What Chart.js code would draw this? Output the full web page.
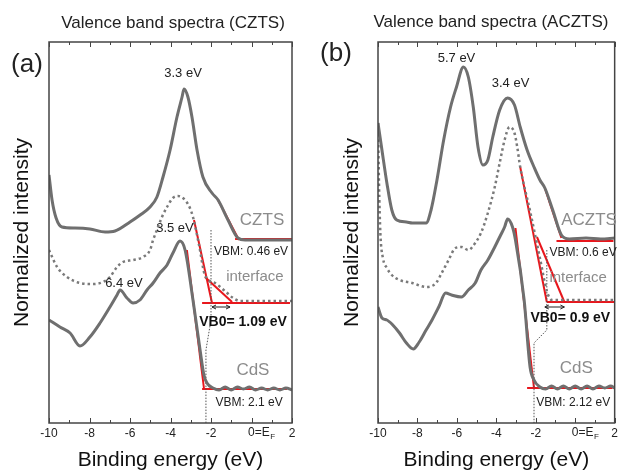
<!DOCTYPE html>
<html>
<head>
<meta charset="utf-8">
<script src="https://cdn.jsdelivr.net/npm/chart.js@4.4.1/dist/chart.umd.min.js"></script>
<style>
  html, body { margin: 0; padding: 0; background: #fff; }
  #wrapA { position: absolute; left: 0; top: 0; }
  #wrapB { position: absolute; left: 310px; top: 0; }
</style>
</head>
<body>
<div id="wrapA"><canvas id="chartA" width="310" height="473"></canvas></div>
<div id="wrapB"><canvas id="chartB" width="311" height="473"></canvas></div>
<script>
// x axis: binding energy (eV), y axis: normalized intensity (arb. units)
const xTicks = [-10, -8, -6, -4, -2, 0, 2];

// ---- panel (a) CZTS ----
const czX = [-10, -9.85, -9.65, -9.36, -8.72, -7.98, -7.23, -6.74, -6.0, -5.5, -5.01, -4.67, -4.37, -4.02, -3.68, -3.43, -3.33, -3.14, -2.94, -2.69, -2.40, -1.95, -1.65, -1.16, -0.67, -0.32, 0.42, 2.0];
const czY = [248, 223, 205, 196, 195, 194, 191, 192, 201, 208, 216, 226, 246, 273, 306, 326, 334, 326, 306, 273, 246, 230, 223, 203, 185, 183, 183, 183];

const czIfX = [-10, -9.60, -9.11, -8.47, -7.83, -7.33, -6.99, -6.64, -6.35, -5.85, -5.36, -5.01, -4.86, -4.67, -4.42, -4.17, -3.88, -3.63, -3.28, -3.04, -2.89, -2.59, -2.30, -1.80, -1.31, -0.91, -0.57, 2.0];
const czIfY = [173, 156, 146, 140, 139, 141, 146, 156, 161, 163, 166, 173, 183, 193, 206, 216, 225, 227, 223, 215, 206, 178, 148, 140, 132, 125, 122, 122];

const czCdsX = [-10, -9.46, -8.96, -8.47, -7.98, -7.48, -6.99, -6.64, -6.49, -6.15, -5.85, -5.51, -5.16, -4.86, -4.52, -4.17, -3.88, -3.53, -3.28, -2.89, -2.54, -2.35, -2.20, -1.90, -1.6, -1.3, -1.0, -0.7, -0.4, -0.1, 0.2, 0.5, 0.8, 1.1, 1.4, 1.7, 2.0];
const czCdsY = [103, 96, 90, 77, 86, 100, 116, 128, 133, 125, 120, 123, 133, 140, 150, 158, 170, 182, 173, 123, 73, 48, 40, 35, 33, 36, 33, 36, 34, 36, 33, 35, 33, 35, 33, 35, 33];

// linear fits [x1, y1, x2, y2]
const czFits = [
  [-1.65, 223, -0.62, 183],
  [-0.81, 184, 2.0, 184],
  [-2.84, 203, -1.95, 120],
  [-2.30, 146, -0.96, 121],
  [-2.44, 120, 1.90, 120],
  [-3.19, 173, -2.35, 35],
  [-2.44, 34, 1.75, 34]
];
const czLeadX = [-2.0, -2.0, -2.25, -2.25];
const czLeadY = [193, 103, 73, 0];
const czArrow = [-1.95, -1.06, 116];
const czLabels = [
  ['3.3 eV', -3.38, 350, 'peak'],
  ['3.5 eV', -3.78, 195, 'peak'],
  ['6.4 eV', -6.30, 140, 'peak'],
  ['CZTS', 0.52, 203, 'name'],
  ['VBM: 0.46 eV', -0.02, 171, 'vbm'],
  ['interface', 0.17, 146, 'iface'],
  ['VB0= 1.09 eV', -0.42, 101, 'vb0'],
  ['CdS', 0.07, 53, 'name'],
  ['VBM: 2.1 eV', -0.12, 20, 'vbm']
];

// ---- panel (b) ACZTS ----
const acX = [-10, -9.80, -9.55, -9.30, -9.05, -8.56, -8.26, -7.56, -7.31, -7.01, -6.67, -6.32, -6.02, -5.67, -5.42, -5.17, -4.93, -4.68, -4.43, -4.18, -3.83, -3.43, -3.08, -2.79, -2.44, -2.09, -1.79, -1.54, -1.14, -0.70, -0.30, 0.55, 1.29, 2.0];
const acY = [300, 273, 240, 213, 203, 201, 200, 200, 213, 243, 283, 316, 336, 356, 346, 316, 276, 258, 263, 286, 313, 325, 318, 296, 273, 256, 243, 235, 213, 188, 184, 185, 184, 185];

const acIfX = [-10, -9.95, -9.88, -9.75, -9.55, -9.30, -8.91, -8.26, -7.56, -7.06, -6.77, -6.42, -6.07, -5.77, -5.42, -5.07, -4.78, -4.43, -4.08, -3.83, -3.58, -3.33, -3.08, -2.94, -2.79, -2.29, -1.79, -1.44, -1.19, 2.0];
const acIfY = [300, 240, 190, 165, 155, 148, 143, 140, 136, 140, 150, 163, 175, 176, 173, 180, 190, 210, 236, 260, 283, 296, 290, 276, 256, 212, 165, 132, 123, 123];

const acCdsX = [-10, -9.80, -9.55, -9.25, -8.91, -8.56, -8.21, -7.91, -7.56, -7.26, -6.92, -6.57, -6.27, -5.77, -5.42, -5.07, -4.78, -4.43, -4.08, -3.78, -3.58, -3.43, -3.18, -3.03, -2.59, -2.29, -2.09, -1.79, -1.5, -1.2, -0.9, -0.6, -0.3, 0, 0.3, 0.6, 0.9, 1.2, 1.5, 1.8, 2.0];
const acCdsY = [116, 105, 103, 98, 90, 80, 74, 81, 93, 103, 116, 130, 128, 126, 133, 140, 153, 163, 176, 188, 196, 204, 196, 183, 123, 56, 43, 36, 34, 37, 34, 37, 34, 37, 34, 37, 34, 37, 35, 37, 35];

const acFits = [
  [-1.54, 235, -0.70, 185],
  [-0.95, 182, 1.94, 182],
  [-2.79, 256, -1.44, 121],
  [-1.94, 186, -0.55, 121],
  [-1.44, 121, 2.0, 121],
  [-3.03, 195, -2.09, 35],
  [-2.44, 35, 1.89, 35]
];
const acLeadX = [-1.44, -1.44, -2.09, -2.09];
const acLeadY = [173, 93, 80, 0];
const acArrow = [-1.54, -0.55, 116];
const acLabels = [
  ['5.7 eV', -6.02, 365, 'peak'],
  ['3.4 eV', -3.28, 340, 'peak'],
  ['ACZTS', 0.70, 203, 'name'],
  ['VBM: 0.6 eV', 0.40, 170, 'vbm'],
  ['interface', 0.15, 145, 'iface'],
  ['VB0= 0.9 eV', -0.25, 105, 'vb0'],
  ['CdS', 0.05, 55, 'name'],
  ['VBM: 2.12 eV', -0.10, 20, 'vbm']
];

const FONT = '"Liberation Sans", Arial, sans-serif';
const labelStyle = {
  peak: { font: '13px ' + FONT, color: '#222' },
  name: { font: '17px ' + FONT, color: '#8c8c8c' },
  iface: { font: '15px ' + FONT, color: '#8c8c8c' },
  vbm: { font: '12px ' + FONT, color: '#222' },
  vb0: { font: 'bold 14px ' + FONT, color: '#111' }
};

function pts(xs, ys) {
  return xs.map((x, i) => ({ x: x, y: ys[i] }));
}

function buildDatasets(curves, fits, leadX, leadY) {
  const sets = [];
  sets.push({ data: pts(curves[0][0], curves[0][1]), borderColor: '#6f6f6f', borderWidth: 3, cubicInterpolationMode: 'monotone' });
  sets.push({ data: pts(curves[1][0], curves[1][1]), borderColor: '#7a7a7a', borderWidth: 2.5, borderDash: [2.5, 3], cubicInterpolationMode: 'monotone' });
  sets.push({ data: pts(curves[2][0], curves[2][1]), borderColor: '#6f6f6f', borderWidth: 3, cubicInterpolationMode: 'monotone' });
  sets.push({ data: pts(leadX, leadY), borderColor: '#555', borderWidth: 1, borderDash: [1.5, 1.5] });
  fits.forEach(f => {
    sets.push({ data: [{ x: f[0], y: f[1] }, { x: f[2], y: f[3] }], borderColor: '#e8161c', borderWidth: 2 });
  });
  sets.forEach(s => { s.pointRadius = 0; s.fill = false; });
  return sets;
}

const decorPlugin = {
  id: 'decor',
  afterDatasetsDraw(chart, args, opts) {
    const ctx = chart.ctx;
    const a = chart.chartArea;
    const xs = chart.scales.x;
    const ys = chart.scales.y;
    ctx.save();
    // frame
    ctx.strokeStyle = '#444';
    ctx.lineWidth = 1.5;
    ctx.strokeRect(a.left, a.top, a.right - a.left, a.bottom - a.top);
    // inward ticks
    ctx.lineWidth = 1;
    xs.ticks.forEach(t => {
      const px = Math.round(xs.getPixelForValue(t.value)) + 0.5;
      const len = (t.value % 2 === 0) ? 5 : 3;
      ctx.beginPath();
      ctx.moveTo(px, a.bottom); ctx.lineTo(px, a.bottom - len);
      ctx.moveTo(px, a.top); ctx.lineTo(px, a.top + len);
      ctx.stroke();
    });
    // 0=E_F tick label
    ctx.fillStyle = '#222';
    ctx.textBaseline = 'middle';
    ctx.textAlign = 'left';
    ctx.font = '12px ' + FONT;
    const x0 = xs.getPixelForValue(0) - 3.5;
    ctx.fillText('0=E', x0, a.bottom + 10);
    const w = ctx.measureText('0=E').width;
    ctx.font = '8px ' + FONT;
    ctx.fillText('F', x0 + w + 0.5, a.bottom + 14);
    // VB0 arrow
    const ar = opts.arrow;
    const ax1 = xs.getPixelForValue(ar[0]);
    const ax2 = xs.getPixelForValue(ar[1]);
    const ay = ys.getPixelForValue(ar[2]);
    ctx.strokeStyle = '#222';
    ctx.beginPath();
    ctx.moveTo(ax1, ay); ctx.lineTo(ax2, ay);
    ctx.moveTo(ax1 + 4, ay - 2); ctx.lineTo(ax1, ay); ctx.lineTo(ax1 + 4, ay + 2);
    ctx.moveTo(ax2 - 4, ay - 2); ctx.lineTo(ax2, ay); ctx.lineTo(ax2 - 4, ay + 2);
    ctx.stroke();
    // annotations
    ctx.textAlign = 'center';
    opts.labels.forEach(l => {
      const st = labelStyle[l[3]];
      ctx.font = st.font;
      ctx.fillStyle = st.color;
      ctx.fillText(l[0], xs.getPixelForValue(l[1]), ys.getPixelForValue(l[2]));
    });
    // panel title and letter
    ctx.fillStyle = '#222';
    ctx.font = '17px ' + FONT;
    ctx.fillText(opts.title, opts.titlePos[0], opts.titlePos[1]);
    ctx.font = '26px ' + FONT;
    ctx.fillText(opts.letter, opts.letterPos[0], opts.letterPos[1]);
    ctx.restore();
  }
};

function makeChart(id, curves, fits, leadX, leadY, cfg) {
  return new Chart(document.getElementById(id), {
    type: 'line',
    data: { datasets: buildDatasets(curves, fits, leadX, leadY) },
    options: {
      responsive: false,
      animation: false,
      layout: { padding: { left: 0, right: cfg.padRight, top: 42, bottom: 0 } },
      plugins: {
        legend: { display: false },
        tooltip: { enabled: false },
        decor: { labels: cfg.labels, arrow: cfg.arrow, title: cfg.title, titlePos: cfg.titlePos, letter: cfg.letter, letterPos: cfg.letterPos }
      },
      scales: {
        x: {
          type: 'linear',
          min: -10,
          max: 2,
          grid: { display: false, drawTicks: false },
          border: { display: false },
          ticks: {
            stepSize: 1,
            autoSkip: false,
            maxRotation: 0,
            padding: 3,
            color: '#222',
            font: { family: FONT, size: 12 },
            callback: v => (xTicks.includes(v) && v !== 0) ? String(v) : ''
          },
          title: { display: true, text: 'Binding energy (eV)', color: '#111', font: { family: FONT, size: 21 }, padding: { top: 0, bottom: 0 } },
          afterFit: s => { s.height = 50; }
        },
        y: {
          min: 0,
          max: 381,
          grid: { display: false, drawTicks: false },
          border: { display: false },
          ticks: { display: false },
          title: { display: true, text: 'Normalized intensity', color: '#111', font: { family: FONT, size: 21 }, padding: { top: cfg.yTitlePad, bottom: 0 } },
          afterFit: s => { s.width = cfg.axisW; }
        }
      }
    },
    plugins: [decorPlugin]
  });
}

makeChart('chartA', [[czX, czY], [czIfX, czIfY], [czCdsX, czCdsY]], czFits, czLeadX, czLeadY, {
  padRight: 18, axisW: 49, yTitlePad: 10,
  labels: czLabels, arrow: czArrow,
  title: 'Valence band spectra (CZTS)', titlePos: [173, 23],
  letter: '(a)', letterPos: [27, 65]
});

makeChart('chartB', [[acX, acY], [acIfX, acIfY], [acCdsX, acCdsY]], acFits, acLeadX, acLeadY, {
  padRight: 2, axisW: 68, yTitlePad: 30,
  labels: acLabels, arrow: acArrow,
  title: 'Valence band spectra (ACZTS)', titlePos: [181, 22],
  letter: '(b)', letterPos: [26, 54]
});
</script>
</body>
</html>
